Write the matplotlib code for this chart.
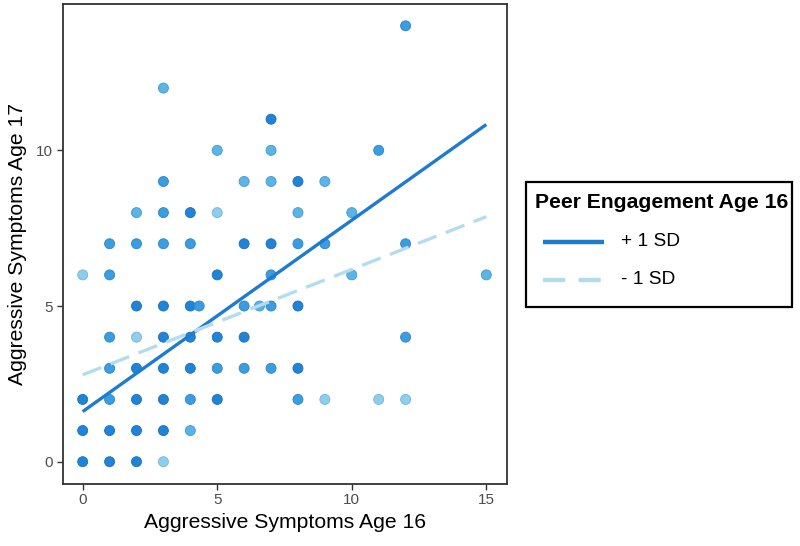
import matplotlib
matplotlib.use("Agg")
import matplotlib.pyplot as plt
from matplotlib.lines import Line2D
from matplotlib.patches import Rectangle

plt.rcParams['font.family'] = ['Liberation Sans', 'DejaVu Sans']

# Scatter data: aggressive symptoms age 16 (x), age 17 (y), peer-engagement shade level (0 light .. 3 dark)
agg16 = [0, 1, 2, 3,
         0, 1, 2, 3, 4,
         0, 1, 2, 3, 4, 5, 8, 9, 11, 12,
         1, 2, 3, 4, 5, 6, 7, 8,
         1, 2, 3, 4, 5, 6, 12,
         2, 3, 4, 4.33, 6, 6.57, 7, 8,
         0, 1, 5, 7, 10, 15,
         1, 2, 3, 4, 6, 7, 8, 9, 12,
         2, 3, 4, 5, 8, 10,
         3, 6, 7, 8, 9,
         5, 7, 11,
         7,
         3,
         12]
agg17 = [0, 0, 0, 0,
         1, 1, 1, 1, 1,
         2, 2, 2, 2, 2, 2, 2, 2, 2, 2,
         3, 3, 3, 3, 3, 3, 3, 3,
         4, 4, 4, 4, 4, 4, 4,
         5, 5, 5, 5, 5, 5, 5, 5,
         6, 6, 6, 6, 6, 6,
         7, 7, 7, 7, 7, 7, 7, 7, 7,
         8, 8, 8, 8, 8, 8,
         9, 9, 9, 9, 9,
         10, 10, 10,
         11,
         12,
         14]
shade = [3, 3, 3, 0,
         3, 3, 3, 3, 1,
         3, 2, 3, 3, 2, 3, 2, 0, 0, 0,
         2, 3, 3, 3, 2, 2, 2, 3,
         2, 0, 3, 3, 3, 3, 2,
         3, 3, 3, 2, 2, 1, 2, 3,
         0, 2, 3, 2, 1, 1,
         2, 2, 2, 2, 3, 3, 2, 2, 2,
         1, 2, 3, 0, 1, 1,
         2, 1, 1, 3, 1,
         1, 1, 2,
         3,
         1,
         2]

# Simple slopes
line_x = [0, 15]
plus_sd = [1.61, 10.83]
minus_sd = [2.79, 7.87]

x_ticks = [0, 5, 10, 15]
y_ticks = [0, 5, 10]
legend_title = 'Peer Engagement Age 16'
legend_labels = ['+ 1 SD', '- 1 SD']

shade_colors = ['#8fcdec', '#5ab4e5', '#3b9de0', '#1f83d8']
edge_colors = ['#6fb6dc', '#4199d0', '#2a86cb', '#1a6fbd']
plus_color = '#1f7bcf'
minus_color = '#b3ddee'

fig = plt.figure(figsize=(8.0, 5.46), dpi=100)
W, H = 800, 546
ax = fig.add_axes([62.5 / W, (H - 483.5) / H, (506.5 - 62.5) / W, (483.5 - 4) / H])

ax.scatter(agg16, agg17, s=52,
           c=[shade_colors[s] for s in shade],
           edgecolors=[edge_colors[s] for s in shade],
           linewidths=0.6, zorder=2)

ax.plot(line_x, plus_sd, color=plus_color, lw=2.4, solid_capstyle='butt', zorder=3)
ax.plot(line_x, minus_sd, color=minus_color, lw=2.4, dashes=(6, 3), zorder=3)

ax.set_xlim(-0.75, 15.75)
ax.set_ylim(-0.7, 14.7)
ax.set_xticks(x_ticks)
ax.set_yticks(y_ticks)
ax.tick_params(axis='both', colors='#333333', labelcolor='#4d4d4d', labelsize=11,
               length=4, width=1.0, pad=3)
for sp in ax.spines.values():
    sp.set_color('#333333')
    sp.set_linewidth(1.3)

ax.set_xlabel('Aggressive Symptoms Age 16', fontsize=15.2, color='black', labelpad=4)
ax.set_ylabel('Aggressive Symptoms Age 17', fontsize=15.2, color='black', labelpad=6)


# Manual legend (figure pixel positions -> figure fraction)
def fx(px):
    return px / W


def fy(py):
    return 1 - py / H


fig.add_artist(Rectangle((fx(526), fy(306.5)), fx(792) - fx(526), fy(182) - fy(306.5),
                         transform=fig.transFigure, fill=False, edgecolor='black',
                         linewidth=1.6))
fig.text(fx(535), fy(203), legend_title, fontsize=15.2, fontweight='bold',
         ha='left', va='center')
fig.add_artist(Line2D([fx(543), fx(604)], [fy(242), fy(242)], transform=fig.transFigure,
                      color=plus_color, lw=3.2, solid_capstyle='butt'))
fig.add_artist(Line2D([fx(543), fx(604)], [fy(280), fy(280)], transform=fig.transFigure,
                      color=minus_color, lw=3.2, dashes=(5, 3)))
fig.text(fx(621), fy(242), legend_labels[0], fontsize=13.8, ha='left', va='center')
fig.text(fx(621), fy(280), legend_labels[1], fontsize=13.8, ha='left', va='center')

fig.savefig('out.png', dpi=100)
